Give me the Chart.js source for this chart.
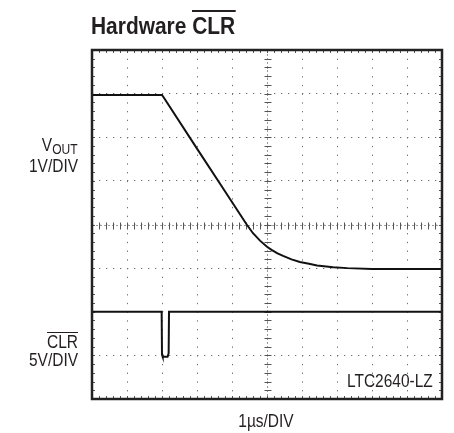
<!DOCTYPE html>
<html>
<head>
<meta charset="utf-8">
<script src="https://cdn.jsdelivr.net/npm/chart.js@4.4.1/dist/chart.umd.min.js"></script>
<style>
body{margin:0;background:#fff;}
#wrap{position:relative;width:454px;height:433px;font-family:"Liberation Sans",Arial,sans-serif;color:#231f20;}
#scope{position:absolute;left:0;top:0;}
.lbl{position:absolute;font-size:18px;line-height:18px;white-space:nowrap;transform:scaleX(0.86);}
.rt{right:376px;text-align:right;transform-origin:right center;}
.lt{transform-origin:right center;}
.ct{transform-origin:center center;}
.bar{display:inline-block;border-top:1.5px solid #231f20;line-height:18px;}
#title{left:91px;top:10px;font-size:23px;line-height:23px;font-weight:bold;transform:scaleX(0.91);transform-origin:left center;}
#title .bar{border-top:2px solid #231f20;padding-top:3px;line-height:23px;}
sub{font-size:14px;vertical-align:-3px;line-height:0;}
</style>
</head>
<body>
<div id="wrap">
<canvas id="scope" width="454" height="433"></canvas>
<div class="lbl" id="title">Hardware <span class="bar">CLR</span></div>
<div class="lbl rt" style="top:136px;">V<sub>OUT</sub></div>
<div class="lbl rt" style="top:157px;">1V/DIV</div>
<div class="lbl rt" style="top:332px;"><span class="bar">CLR</span></div>
<div class="lbl rt" style="top:351px;">5V/DIV</div>
<div class="lbl lt" style="right:21px;top:372px;">LTC2640-LZ</div>
<div class="lbl ct" style="left:216px;width:100px;text-align:center;top:412px;">1µs/DIV</div>
</div>
<script>

// SCOPE SCREEN: 10 x 8 DIVISIONS

const xDivs=[0,1,2,3,4,5,6,7,8,9,10];
const yDivs=[0,1,2,3,4,5,6,7,8];

// VOUT trace (time in us, level in divisions from bottom)
const voutTime=[0,2.0,2.05,3.0,3.71,4.2,4.42,4.6,4.8,5.0,5.13,5.3,5.46,5.7,5.94,6.2,6.43,6.89,7.3,8.0,10];
const voutLevel=[6.97,6.97,6.91,5.74,4.87,4.27,4.0,3.8,3.63,3.49,3.42,3.34,3.28,3.2,3.14,3.1,3.06,3.02,3.0,2.98,2.98];

// CLR trace
const clrTime=[0,1.99,2.0,2.02,2.16,2.19,2.2,10];
const clrLevel=[2.0,2.0,1.02,0.97,0.97,1.05,2.0,2.0];


// minor ticks, frame and centre lines

const scopeMarks={
id:"scopeMarks",
beforeDatasetsDraw(chart){
const ctx=chart.ctx;
const a=chart.chartArea;
const x=chart.scales.x;
const y=chart.scales.y;
const cx=Math.round(x.getPixelForValue(5))+0.5;
const cy=Math.round(y.getPixelForValue(4))+0.5;

ctx.save();

// centre cross, dashed
ctx.strokeStyle="#9a9a9a";
ctx.lineWidth=1;
ctx.setLineDash([2,2]);
ctx.beginPath();
ctx.moveTo(cx,a.top);ctx.lineTo(cx,a.bottom);
ctx.moveTo(a.left,cy);ctx.lineTo(a.right,cy);
ctx.stroke();
ctx.setLineDash([]);

// minor ticks (5 per division)
ctx.strokeStyle="#555";
ctx.beginPath();
for(let i=0;i<=50;i++){
const px=Math.round(x.getPixelForValue(i/5))+0.5;
ctx.moveTo(px,cy-3);ctx.lineTo(px,cy+4);
ctx.moveTo(px,a.top);ctx.lineTo(px,a.top+3);
ctx.moveTo(px,a.bottom);ctx.lineTo(px,a.bottom-3);
}
for(let i=0;i<=40;i++){
const py=Math.round(y.getPixelForValue(i/5))+0.5;
ctx.moveTo(cx-3,py);ctx.lineTo(cx+4,py);
ctx.moveTo(a.left,py);ctx.lineTo(a.left+3,py);
ctx.moveTo(a.right,py);ctx.lineTo(a.right-3,py);
}
ctx.stroke();
ctx.restore();
},
afterDatasetsDraw(chart){
const ctx=chart.ctx;
const a=chart.chartArea;
ctx.save();
ctx.strokeStyle="#222";
ctx.lineWidth=2.5;
ctx.strokeRect(a.left,a.top,a.right-a.left,a.bottom-a.top);
ctx.restore();
}
};

const ctx=document.getElementById("scope").getContext("2d");

const scopeChart=new Chart(ctx,{
type:"line",
data:{
datasets:[
{
label:"VOUT",
data:voutTime.map((t,i)=>({x:t,y:voutLevel[i]})),
borderColor:"#111",
borderWidth:2,
pointRadius:0,
tension:0,
fill:false
},
{
label:"CLR",
data:clrTime.map((t,i)=>({x:t,y:clrLevel[i]})),
borderColor:"#111",
borderWidth:2,
pointRadius:0,
tension:0,
fill:false
}
]
},
options:{
responsive:false,
animation:false,
layout:{padding:{left:92,top:50,right:12,bottom:34}},
plugins:{legend:{display:false},tooltip:{enabled:false}},
scales:{
x:{
type:"linear",
min:0,
max:10,
afterBuildTicks:axis=>{axis.ticks=xDivs.map(v=>({value:v}));},
ticks:{display:false},
grid:{color:"#6f6f6f",drawTicks:false},
border:{display:false,dash:[1.3,7.42]}
},
y:{
type:"linear",
min:0,
max:8,
afterBuildTicks:axis=>{axis.ticks=yDivs.map(v=>({value:v}));},
ticks:{display:false},
grid:{color:"#6f6f6f",drawTicks:false},
border:{display:false,dash:[1.3,5.7]}
}
}
},
plugins:[scopeMarks]
});
</script>
</body>
</html>
